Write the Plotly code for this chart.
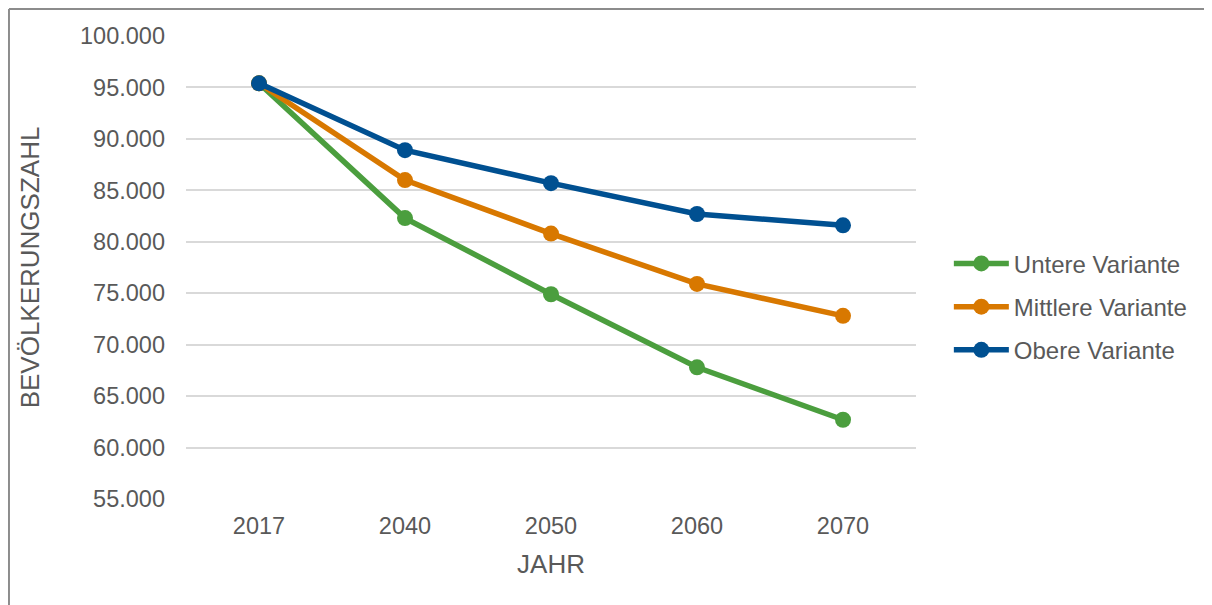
import plotly.graph_objects as go

jahre = ["2017", "2040", "2050", "2060", "2070"]
untere = [95400, 82300, 74900, 67800, 62700]
mittlere = [95400, 86000, 80800, 75900, 72800]
obere = [95400, 88900, 85700, 82700, 81600]

serien = [
    ("Untere Variante", untere, "#4B9E3E"),
    ("Mittlere Variante", mittlere, "#D87800"),
    ("Obere Variante", obere, "#005091"),
]

txt = "#595959"
font = "Liberation Sans, Arial, sans-serif"

fig = go.Figure()
for i, (name, werte, farbe) in enumerate(serien):
    fig.add_trace(go.Scatter(
        x=jahre, y=werte, name=name, mode="lines+markers",
        line=dict(color=farbe, width=5.5),
        marker=dict(color=farbe, size=16),
        legendgroup=str(i),
    ))

# page body has an 8px margin, so margins are shifted by that
fig.update_layout(
    width=1212, height=605,
    margin=dict(l=178, r=304, t=28, b=114),
    paper_bgcolor="white", plot_bgcolor="white",
    separators=",.",
    font=dict(family=font, size=23.5, color=txt),
    legend=dict(x=1.045, y=0.415, xanchor="left", yanchor="middle",
                traceorder="grouped", tracegroupgap=9,
                font=dict(size=24, color=txt), itemwidth=55),
    showlegend=True,
    shapes=[
        dict(type="line", xref="paper", yref="paper", x0=-0.2425, x1=1.5, y0=1.0583, y1=1.0583,
             line=dict(color="#8C8C8C", width=2)),
        dict(type="line", xref="paper", yref="paper", x0=-0.2425, x1=-0.2425, y0=1.0583, y1=-0.3,
             line=dict(color="#8C8C8C", width=2)),
    ],
)
fig.update_xaxes(
    type="category", range=[-0.5, 4.5], showgrid=False, showline=False, zeroline=False,
    ticks="", ticklabelstandoff=10,
    title=dict(text="JAHR", standoff=17, font=dict(size=26, color=txt)),
)
fig.update_yaxes(
    range=[55000, 100000], dtick=5000, tickformat=",d",
    showgrid=True, gridcolor="#D9D9D9", gridwidth=2, zeroline=False, showline=False,
    ticks="", ticklabelstandoff=20,
    title=dict(text="BEVÖLKERUNGSZAHL", standoff=32, font=dict(size=26, color=txt)),
)

fig.write_html("out.html")
